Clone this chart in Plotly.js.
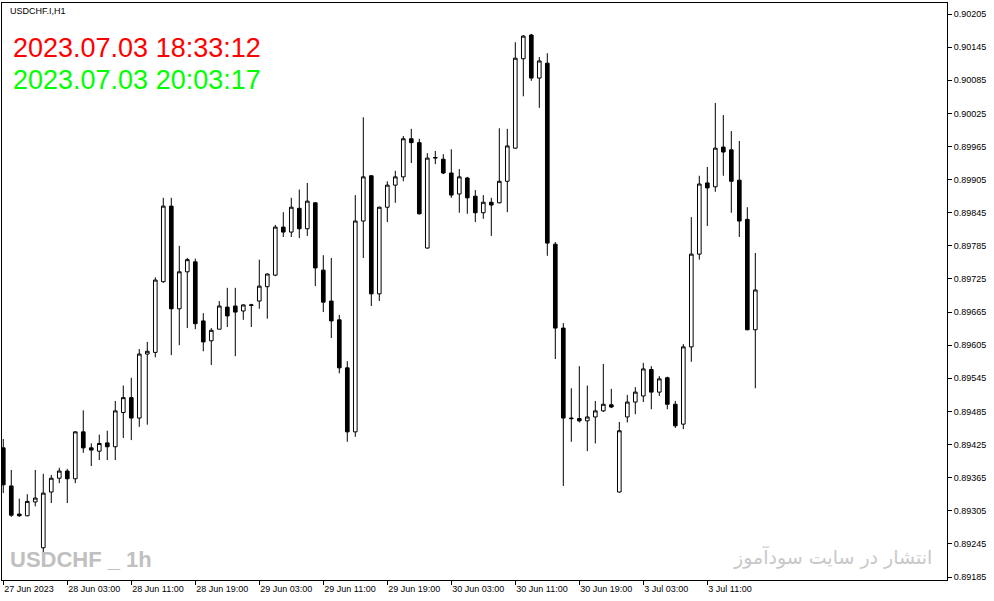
<!DOCTYPE html>
<html>
<head>
<meta charset="utf-8">
<script src="https://cdn.plot.ly/plotly-3.0.1.min.js"></script>
<style>html,body{margin:0;padding:0;background:#fff;}#chart{width:994px;height:601px;}</style>
</head>
<body>
<div id="chart"></div>
<script>
// USDCHF.I H1 candles, first candle 27 Jun 2023 19:00
const openP  = [0.89419,0.89350,0.89299,0.89296,0.89321,0.89238,0.89339,0.89364,0.89377,0.89363,
                0.89448,0.89419,0.89413,0.89428,0.89421,0.89483,0.89510,0.89473,0.89589,0.89592,
                0.89720,0.89857,0.89671,0.89738,0.89756,0.89649,0.89613,0.89634,0.89674,0.89676,
                0.89667,0.89677,0.89685,0.89711,0.89732,0.89819,0.89810,0.89853,0.89816,0.89863,
                0.89741,0.89685,0.89651,0.89564,0.89448,0.89830,0.89912,0.89698,0.89855,0.89895,
                0.89910,0.89979,0.89972,0.89781,0.89944,0.89942,0.89917,0.89879,0.89908,0.89875,
                0.89845,0.89864,0.89863,0.89902,0.89962,0.90124,0.90167,0.90089,0.90116,0.89788,
                0.89636,0.89473,0.89472,0.89468,0.89475,0.89486,0.89497,0.89339,0.89475,0.89502,
                0.89513,0.89561,0.89520,0.89546,0.89498,0.89462,0.89602,0.89770,0.89899,0.89892,
                0.89964,0.89959,0.89904,0.89833,0.89633];
const highP  = [0.89435,0.89379,0.89327,0.89335,0.89379,0.89372,0.89370,0.89383,0.89381,0.89449,
                0.89487,0.89427,0.89443,0.89450,0.89504,0.89532,0.89546,0.89598,0.89611,0.89728,
                0.89872,0.89872,0.89785,0.89763,0.89762,0.89663,0.89636,0.89685,0.89709,0.89709,
                0.89679,0.89680,0.89760,0.89735,0.89823,0.89846,0.89872,0.89887,0.89899,0.89864,
                0.89768,0.89763,0.89660,0.89576,0.89877,0.90018,0.89913,0.89856,0.89902,0.89921,
                0.89984,0.89997,0.89979,0.89953,0.89957,0.89951,0.89960,0.89924,0.89910,0.89886,
                0.89877,0.89872,0.89998,0.89997,0.90154,0.90167,0.90169,0.90127,0.90134,0.89792,
                0.89645,0.89527,0.89567,0.89532,0.89504,0.89571,0.89526,0.89466,0.89515,0.89529,
                0.89573,0.89567,0.89549,0.89548,0.89504,0.89607,0.89837,0.89912,0.89928,0.90044,
                0.90022,0.89993,0.89975,0.89855,0.89772];
const lowP   = [0.89337,0.89294,0.89294,0.89295,0.89313,0.89228,0.89319,0.89355,0.89319,0.89355,
                0.89410,0.89386,0.89397,0.89397,0.89397,0.89437,0.89433,0.89457,0.89461,0.89583,
                0.89718,0.89587,0.89605,0.89636,0.89634,0.89594,0.89569,0.89634,0.89638,0.89585,
                0.89651,0.89638,0.89671,0.89653,0.89730,0.89801,0.89801,0.89799,0.89803,0.89712,
                0.89665,0.89618,0.89554,0.89430,0.89439,0.89763,0.89676,0.89685,0.89828,0.89863,
                0.89902,0.89935,0.89842,0.89780,0.89933,0.89915,0.89872,0.89845,0.89843,0.89828,
                0.89834,0.89803,0.89862,0.89846,0.89961,0.90056,0.90084,0.90035,0.89767,0.89580,
                0.89350,0.89430,0.89465,0.89413,0.89427,0.89484,0.89491,0.89338,0.89465,0.89480,
                0.89502,0.89489,0.89513,0.89489,0.89455,0.89453,0.89575,0.89760,0.89821,0.89883,
                0.89912,0.89845,0.89801,0.89632,0.89527];
const closeP = [0.89352,0.89297,0.89296,0.89322,0.89328,0.89337,0.89364,0.89377,0.89363,0.89448,
                0.89419,0.89415,0.89427,0.89421,0.89486,0.89510,0.89473,0.89589,0.89594,0.89723,
                0.89857,0.89671,0.89738,0.89760,0.89644,0.89611,0.89632,0.89676,0.89658,0.89665,
                0.89678,0.89678,0.89712,0.89734,0.89819,0.89810,0.89855,0.89816,0.89866,0.89745,
                0.89683,0.89649,0.89564,0.89448,0.89830,0.89910,0.89698,0.89855,0.89895,0.89910,
                0.89979,0.89972,0.89843,0.89944,0.89945,0.89917,0.89877,0.89910,0.89872,0.89845,
                0.89864,0.89859,0.89902,0.89966,0.90125,0.90165,0.90089,0.90120,0.89790,0.89636,
                0.89473,0.89472,0.89468,0.89475,0.89486,0.89498,0.89493,0.89450,0.89502,0.89520,
                0.89562,0.89520,0.89544,0.89498,0.89459,0.89602,0.89770,0.89897,0.89890,0.89962,
                0.89955,0.89902,0.89830,0.89633,0.89705];

const xTickIdx    = [0, 8, 16, 24, 32, 40, 48, 56, 64, 72, 80, 88];
const xTickLabels = ["27 Jun 2023","28 Jun 03:00","28 Jun 11:00","28 Jun 19:00","29 Jun 03:00",
                     "29 Jun 11:00","29 Jun 19:00","30 Jun 03:00","30 Jun 11:00","30 Jun 19:00",
                     "3 Jul 03:00","3 Jul 11:00"];
const yTicks = [0.90205,0.90145,0.90085,0.90025,0.89965,0.89905,0.89845,0.89785,0.89725,
                0.89665,0.89605,0.89545,0.89485,0.89425,0.89365,0.89305,0.89245,0.89185];

const xIdx = openP.map((_, i) => i);

const trace = {
  type: 'candlestick',
  x: xIdx, open: openP, high: highP, low: lowP, close: closeP,
  increasing: {line: {color: '#000000', width: 1}, fillcolor: '#ffffff'},
  decreasing: {line: {color: '#000000', width: 1}, fillcolor: '#000000'},
  whiskerwidth: 0,
  hoverinfo: 'skip'
};

const axisFont = {family: 'Liberation Sans, Arial, sans-serif', size: 9, color: '#000000'};

const layout = {
  width: 994, height: 601,
  margin: {l: 2, r: 47, t: 3, b: 21},
  paper_bgcolor: '#ffffff', plot_bgcolor: '#ffffff',
  showlegend: false,
  boxgap: 0.35,
  xaxis: {
    range: [-0.16, 117.96],
    rangeslider: {visible: false},
    showgrid: false, zeroline: false,
    showline: true, linecolor: '#000000', linewidth: 1, mirror: true,
    tickmode: 'array', tickvals: xTickIdx, ticktext: xTickLabels,
    ticks: 'outside', ticklen: 4, tickcolor: '#000000', tickwidth: 1,
    ticklabelposition: 'outside right',
    tickfont: axisFont, fixedrange: true
  },
  yaxis: {
    side: 'right',
    range: [0.891796, 0.90225],
    showgrid: false, zeroline: false,
    showline: true, linecolor: '#000000', linewidth: 1, mirror: true,
    tickmode: 'array', tickvals: yTicks,
    ticktext: yTicks.map(v => v.toFixed(5)),
    ticks: 'outside', ticklen: 4, tickcolor: '#000000', tickwidth: 1,
    tickfont: axisFont, fixedrange: true
  },
  annotations: [
    {xref: 'paper', yref: 'paper', x: 0.006, y: 0.9975, xanchor: 'left', yanchor: 'top',
     text: 'USDCHF.I,H1', showarrow: false,
     font: {family: 'Liberation Sans, Arial, sans-serif', size: 9, color: '#000000'}},
    {xref: 'paper', yref: 'paper', x: 0.010, y: 0.922, xanchor: 'left', yanchor: 'middle',
     text: '2023.07.03 18:33:12', showarrow: false,
     font: {family: 'Liberation Sans, Arial, sans-serif', size: 27, color: '#FF0000'}},
    {xref: 'paper', yref: 'paper', x: 0.010, y: 0.867, xanchor: 'left', yanchor: 'middle',
     text: '2023.07.03 20:03:17', showarrow: false,
     font: {family: 'Liberation Sans, Arial, sans-serif', size: 27, color: '#00FF00'}},
    {xref: 'paper', yref: 'paper', x: 0.006, y: 0.035, xanchor: 'left', yanchor: 'middle',
     text: '<b>USDCHF _ 1h</b>', showarrow: false,
     font: {family: 'Liberation Sans, Arial, sans-serif', size: 22, color: '#C0C0C0'}},
    {xref: 'paper', yref: 'paper', x: 0.986, y: 0.04, xanchor: 'right', yanchor: 'middle',
     text: 'انتشار در سایت سودآموز', showarrow: false,
     font: {family: 'DejaVu Sans, Noto Sans, sans-serif', size: 19, color: '#C8C8C8'}}
  ]
};

Plotly.newPlot('chart', [trace], layout, {staticPlot: true, displayModeBar: false});
</script>
</body>
</html>
